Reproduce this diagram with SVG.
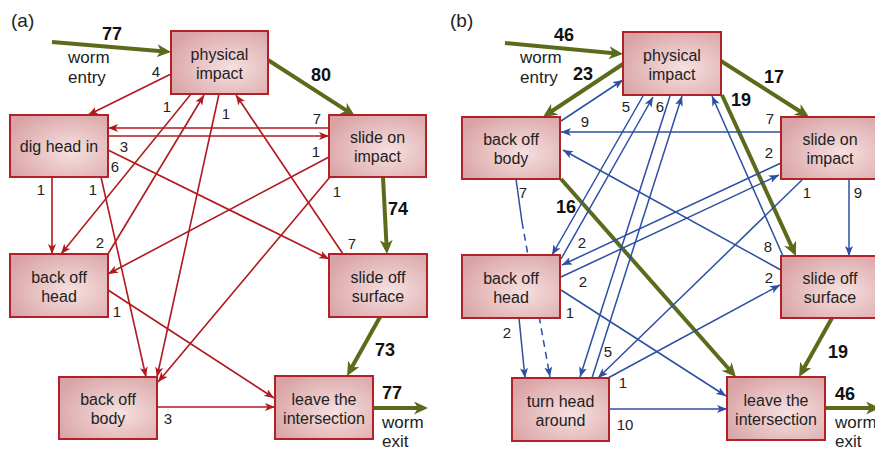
<svg xmlns="http://www.w3.org/2000/svg" width="875" height="452" viewBox="0 0 875 452">
<style>
.node rect{fill:url(#bg);stroke:#b02228;stroke-width:2}
.nt{font-family:"Liberation Sans",Arial,sans-serif;font-size:16px;fill:#222;text-anchor:middle}
.n{font-family:"Liberation Sans",Arial,sans-serif;font-size:15px;fill:#222;text-anchor:middle}
.b{font-family:"Liberation Sans",Arial,sans-serif;font-size:18px;font-weight:bold;fill:#111;text-anchor:middle}
.w{font-family:"Liberation Sans",Arial,sans-serif;font-size:17px;fill:#222}
.p{font-family:"Liberation Sans",Arial,sans-serif;font-size:19px;fill:#222}
.r{stroke:#b0191e;stroke-width:1.6;fill:none;marker-end:url(#ar)}
.u{stroke:#2b4fa3;stroke-width:1.5;fill:none;marker-end:url(#au)}
.g{stroke:#5b6b1c;stroke-width:4;fill:none;marker-end:url(#ag)}
</style>
<defs>
<radialGradient id="bg" cx="62%" cy="58%" r="72%">
<stop offset="0" stop-color="#f6e0e0"/>
<stop offset="1" stop-color="#d9a2a4"/>
</radialGradient>
<marker id="ar" markerUnits="userSpaceOnUse" markerWidth="10" markerHeight="8" refX="10" refY="4" orient="auto"><path d="M0,0 L10,4 L0,8 L2.5,4 z" fill="#b0191e"/></marker>
<marker id="au" markerUnits="userSpaceOnUse" markerWidth="10" markerHeight="8" refX="10" refY="4" orient="auto"><path d="M0,0 L10,4 L0,8 L2.5,4 z" fill="#2b4fa3"/></marker>
<marker id="ag" markerUnits="userSpaceOnUse" markerWidth="15" markerHeight="13" refX="5" refY="6.5" orient="auto"><path d="M0,0 L14,6.5 L0,13 L4,6.5 z" fill="#5b6b1c"/></marker>
</defs>
<rect width="875" height="452" fill="#fff"/>
<text class="p" x="11" y="27">(a)</text>
<text class="p" x="450" y="27">(b)</text>

<g id="connectors">
<path class="g" d="M52,42 L162,51.2"/>
<path class="g" d="M268,60 L347.4,111.1"/>
<path class="g" d="M383,177 L386.5,245"/>
<path class="g" d="M380,317 L351.4,368.1"/>
<path class="g" d="M373,408 L419,408"/>
<path class="r" d="M171,74 L88,115"/>
<path class="r" d="M329,128 L108,128"/>
<path class="r" d="M108,136 L329,136"/>
<path class="r" d="M108,150 L329,259"/>
<path class="r" d="M52,177 L52,254"/>
<path class="r" d="M101,177 L146,377"/>
<path class="r" d="M191,94 L61,254"/>
<path class="r" d="M108,254 L204,95"/>
<path class="r" d="M219,94 L157,377"/>
<path class="r" d="M330,177 L158,382"/>
<path class="r" d="M329,157 L108,274"/>
<path class="r" d="M343,254 L236,95"/>
<path class="r" d="M108,290 L274,398"/>
<path class="r" d="M157,407 L275,407"/>
<path class="g" d="M505,43 L614,53.2"/>
<path class="g" d="M623,64 L550.5,112"/>
<path class="g" d="M721,61 L801.4,112.2"/>
<path class="g" d="M722,95 L792.2,247.8"/>
<path class="g" d="M561,179 L730,370.3"/>
<path class="g" d="M832,318 L803.4,369.1"/>
<path class="g" d="M826,408 L871,408"/>
<path class="u" d="M561,121 L623,80"/>
<path class="u" d="M781,132 L561,132"/>
<path class="u" d="M781,270 L563,150"/>
<path class="u" d="M783,256 L712,96"/>
<path d="M516,179 L522,222" stroke="#2b4fa3" stroke-width="1.5" fill="none"/>
<path class="u" d="M522,222 L550,377" stroke="#6f8fd4" stroke-dasharray="7,5"/>
<path class="u" d="M519,318 L525,378"/>
<path class="u" d="M849,179 L849,256"/>
<path class="u" d="M561,290 L726,396"/>
<path class="u" d="M609,409 L727,409"/>
<path class="u" d="M643,96 L552,255"/>
<path class="u" d="M561,259 L653,97"/>
<path class="u" d="M670,96 L580,377"/>
<path class="u" d="M592,378 L682,96"/>
<path class="u" d="M781,163 L562,265"/>
<path class="u" d="M561,277 L779,175"/>
<path class="u" d="M802,180 L598,378"/>
<path class="u" d="M608,378 L780,285"/>
</g>

<g id="a-physical-impact" class="node"><rect x="171" y="31" width="97" height="63"/><text class="nt" x="219.5" y="59.5">physical</text><text class="nt" x="219.5" y="78.5">impact</text></g>
<g id="a-dig-head-in" class="node"><rect x="10" y="115" width="98" height="62"/><text class="nt" x="59" y="151.5">dig head in</text></g>
<g id="a-slide-on-impact" class="node"><rect x="329" y="115" width="97" height="62"/><text class="nt" x="377.5" y="143">slide on</text><text class="nt" x="377.5" y="162">impact</text></g>
<g id="a-back-off-head" class="node"><rect x="10" y="254" width="98" height="63"/><text class="nt" x="59" y="282.5">back off</text><text class="nt" x="59" y="301.5">head</text></g>
<g id="a-slide-off-surface" class="node"><rect x="329" y="254" width="98" height="63"/><text class="nt" x="378" y="282.5">slide off</text><text class="nt" x="378" y="301.5">surface</text></g>
<g id="a-back-off-body" class="node"><rect x="59" y="377" width="98" height="62"/><text class="nt" x="108" y="405">back off</text><text class="nt" x="108" y="424">body</text></g>
<g id="a-leave" class="node"><rect x="275" y="376" width="98" height="63"/><text class="nt" x="324" y="404.5">leave the</text><text class="nt" x="324" y="423.5">intersection</text></g>

<g id="b-physical-impact" class="node"><rect x="623" y="32" width="98" height="63"/><text class="nt" x="672" y="60.5">physical</text><text class="nt" x="672" y="79.5">impact</text></g>
<g id="b-back-off-body" class="node"><rect x="462" y="117" width="98" height="62"/><text class="nt" x="511" y="145">back off</text><text class="nt" x="511" y="164">body</text></g>
<g id="b-slide-on-impact" class="node"><rect x="781" y="117" width="98" height="62"/><text class="nt" x="830" y="145">slide on</text><text class="nt" x="830" y="164">impact</text></g>
<g id="b-back-off-head" class="node"><rect x="462" y="255" width="98" height="63"/><text class="nt" x="511" y="283.5">back off</text><text class="nt" x="511" y="302.5">head</text></g>
<g id="b-slide-off-surface" class="node"><rect x="781" y="256" width="98" height="62"/><text class="nt" x="830" y="284">slide off</text><text class="nt" x="830" y="303">surface</text></g>
<g id="b-turn-head-around" class="node"><rect x="512" y="378" width="97" height="63"/><text class="nt" x="560.5" y="406.5">turn head</text><text class="nt" x="560.5" y="425.5">around</text></g>
<g id="b-leave" class="node"><rect x="727" y="377" width="98" height="63"/><text class="nt" x="776" y="405.5">leave the</text><text class="nt" x="776" y="424.5">intersection</text></g>

<g id="labels-a">
<text class="b" x="112" y="40">77</text>
<text class="w" x="68" y="63">worm</text>
<text class="w" x="68" y="83">entry</text>
<text class="b" x="321" y="81">80</text>
<text class="b" x="398" y="215">74</text>
<text class="b" x="385" y="356">73</text>
<text class="b" x="392" y="399">77</text>
<text class="w" x="382" y="428">worm</text>
<text class="w" x="382" y="447">exit</text>
<text class="n" x="156" y="77">4</text>
<text class="n" x="167" y="112">1</text>
<text class="n" x="226" y="119">1</text>
<text class="n" x="317" y="124">7</text>
<text class="n" x="124" y="152">3</text>
<text class="n" x="316" y="157">1</text>
<text class="n" x="115" y="172">6</text>
<text class="n" x="41" y="195">1</text>
<text class="n" x="93" y="195">1</text>
<text class="n" x="337" y="197">1</text>
<text class="n" x="100" y="248">2</text>
<text class="n" x="352" y="249">7</text>
<text class="n" x="117" y="317">1</text>
<text class="n" x="168" y="424">3</text>
</g>
<g id="labels-b">
<text class="b" x="564" y="41">46</text>
<text class="w" x="520" y="63">worm</text>
<text class="w" x="520" y="83">entry</text>
<text class="b" x="583" y="80">23</text>
<text class="b" x="774" y="83">17</text>
<text class="b" x="741" y="106">19</text>
<text class="b" x="566" y="213">16</text>
<text class="b" x="838" y="358">19</text>
<text class="b" x="845" y="400">46</text>
<text class="w" x="835" y="428">worm</text>
<text class="w" x="835" y="447">exit</text>
<text class="n" x="626" y="112">5</text>
<text class="n" x="660" y="112">6</text>
<text class="n" x="585" y="127">9</text>
<text class="n" x="770" y="124">7</text>
<text class="n" x="769" y="158">2</text>
<text class="n" x="807" y="198">1</text>
<text class="n" x="858" y="198">9</text>
<text class="n" x="523" y="198">7</text>
<text class="n" x="582" y="248">2</text>
<text class="n" x="583" y="287">2</text>
<text class="n" x="768" y="252">8</text>
<text class="n" x="769" y="283">2</text>
<text class="n" x="570" y="318">1</text>
<text class="n" x="507" y="338">2</text>
<text class="n" x="608" y="357">5</text>
<text class="n" x="623" y="388">1</text>
<text class="n" x="625" y="430">10</text>
</g>
</svg>
